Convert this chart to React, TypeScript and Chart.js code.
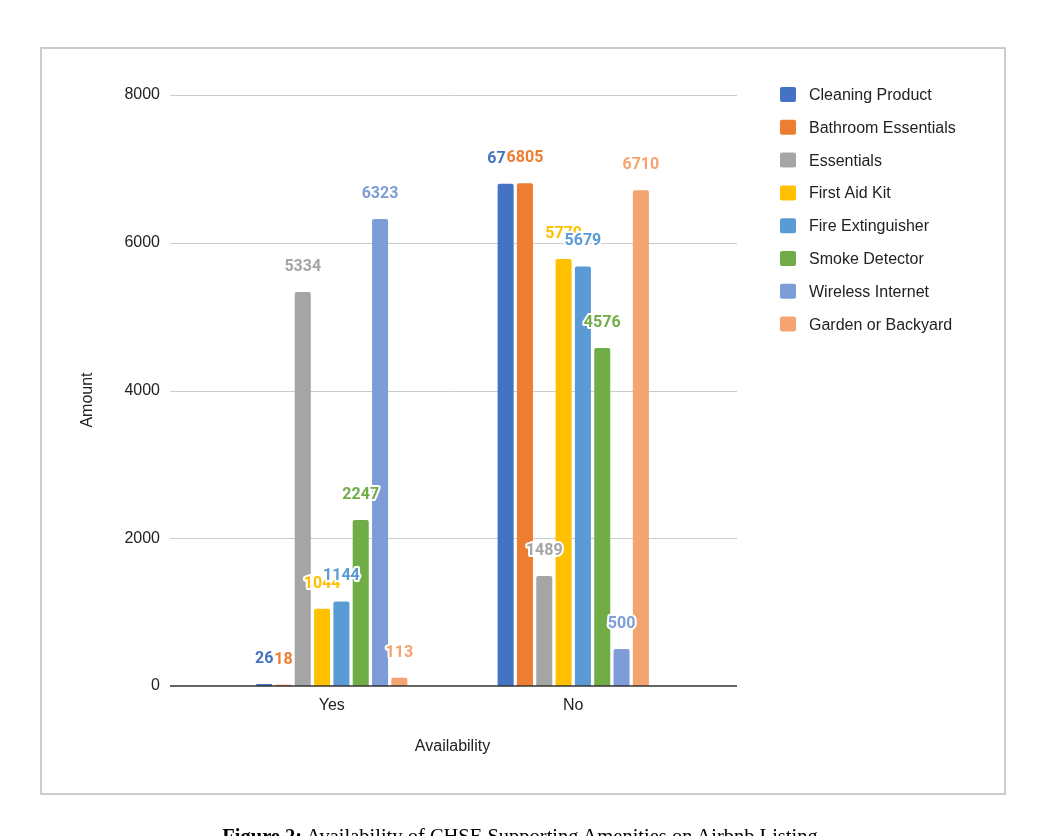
import React, { useEffect, useRef } from "react";
import { Chart, registerables } from "chart.js";

Chart.register(...registerables);

const categories = ["Yes", "No"];
const seriesNames = [
  "Cleaning Product",
  "Bathroom Essentials",
  "Essentials",
  "First Aid Kit",
  "Fire Extinguisher",
  "Smoke Detector",
  "Wireless Internet",
  "Garden or Backyard",
];
const cleaningProduct = [26, 6797];
const bathroomEssentials = [18, 6805];
const essentials = [5334, 1489];
const firstAidKit = [1044, 5779];
const fireExtinguisher = [1144, 5679];
const smokeDetector = [2247, 4576];
const wirelessInternet = [6323, 500];
const gardenOrBackyard = [113, 6710];
const seriesValues = [
  cleaningProduct,
  bathroomEssentials,
  essentials,
  firstAidKit,
  fireExtinguisher,
  smokeDetector,
  wirelessInternet,
  gardenOrBackyard,
];
const seriesColors = [
  "#4472C4",
  "#ED7D31",
  "#A5A5A5",
  "#FFC000",
  "#5B9BD5",
  "#70AD47",
  "#7E9DD8",
  "#F3A46F",
];
const yTicks = [0, 2000, 4000, 6000, 8000];
const yTitle = "Amount";
const xTitle = "Availability";

const SANS = "'Liberation Sans', Arial, sans-serif";

const gridPlugin = {
  id: "extGrid",
  beforeDatasetsDraw(chart: any) {
    const { ctx } = chart;
    const y = chart.scales.y;
    ctx.save();
    ctx.strokeStyle = "#cccccc";
    ctx.lineWidth = 1;
    yTicks.forEach((t) => {
      if (t === 0) return;
      const py = Math.round(y.getPixelForValue(t)) + 0.5;
      ctx.beginPath();
      ctx.moveTo(170, py);
      ctx.lineTo(737, py);
      ctx.stroke();
    });
    ctx.restore();
  },
  afterDatasetsDraw(chart: any) {
    const { ctx } = chart;
    const y = chart.scales.y;
    ctx.save();
    ctx.strokeStyle = "#333333";
    ctx.lineWidth = 1.5;
    const py = y.getPixelForValue(0);
    ctx.beginPath();
    ctx.moveTo(170, py);
    ctx.lineTo(737, py);
    ctx.stroke();

    // data labels
    ctx.font = "bold 16px Roboto, sans-serif";
    ctx.textAlign = "center";
    ctx.textBaseline = "alphabetic";
    ctx.lineJoin = "round";
    chart.data.datasets.forEach((ds: any, i: number) => {
      const meta = chart.getDatasetMeta(i);
      meta.data.forEach((el: any, j: number) => {
        const text = String(ds.data[j]);
        const tx = el.x;
        const ty = el.y - 21;
        ctx.strokeStyle = "#ffffff";
        ctx.lineWidth = 4;
        ctx.strokeText(text, tx, ty);
        ctx.fillStyle = ds.backgroundColor;
        ctx.fillText(text, tx, ty);
      });
    });
    ctx.restore();
  },
  afterDraw(chart: any) {
    const { ctx } = chart;
    ctx.save();
    ctx.font = "16px " + SANS;
    ctx.textAlign = "left";
    ctx.textBaseline = "middle";
    chart.data.datasets.forEach((ds: any, i: number) => {
      const cy = 94.5 + i * 32.8;
      ctx.fillStyle = ds.backgroundColor;
      ctx.beginPath();
      (ctx as any).roundRect(780, cy - 7.5, 16, 15, 2);
      ctx.fill();
      ctx.fillStyle = "#222222";
      ctx.fillText(ds.label, 809, cy + 1);
    });
    // y axis title
    ctx.translate(88, 400);
    ctx.rotate(-Math.PI / 2);
    ctx.textAlign = "center";
    ctx.fillStyle = "#222222";
    ctx.fillText(yTitle, 0, 0);
    ctx.restore();
  },
};

function App() {
  const ref = useRef<HTMLCanvasElement | null>(null);
  useEffect(() => {
    if (!ref.current) return;
    const chart = new Chart(ref.current, {
      type: "bar",
      data: {
        labels: categories,
        datasets: seriesNames.map((name, i) => ({
          label: name,
          data: seriesValues[i],
          backgroundColor: seriesColors[i],
          borderRadius: { topLeft: 2, topRight: 2, bottomLeft: 0, bottomRight: 0 },
          borderSkipped: "start",
          categoryPercentage: 0.64,
          barPercentage: 0.83,
        })),
      },
      options: {
        responsive: false,
        animation: false,
        devicePixelRatio: 1,
        layout: { padding: { left: 78.4, right: 346, top: 95, bottom: 79.4 } },
        plugins: {
          legend: { display: false },
          tooltip: { enabled: false },
        },
        scales: {
          x: {
            afterFit: (s: any) => {
              s.height = 70.6;
            },
            grid: { display: false, drawTicks: false },
            border: { display: false },
            ticks: {
              padding: 10,
              color: "#222222",
              font: { family: SANS, size: 16 },
            },
            title: {
              display: true,
              text: xTitle,
              color: "#222222",
              padding: 0,
              font: { family: SANS, size: 16 },
            },
          },
          y: {
            min: 0,
            max: 8000,
            afterFit: (s: any) => {
              s.width = 132.6;
            },
            afterBuildTicks: (s: any) => {
              s.ticks = yTicks.map((v) => ({ value: v }));
            },
            grid: { display: false, drawTicks: false },
            border: { display: false },
            ticks: {
              padding: 51,
              color: "#222222",
              font: { family: SANS, size: 16 },
              callback: (v: any) => String(v),
            },
            title: { display: false },
          },
        },
      },
      plugins: [gridPlugin],
    } as any);
    return () => chart.destroy();
  }, []);

  return (
    <div
      style={{
        position: "absolute",
        left: 0,
        top: 0,
        width: 1040,
        height: 836,
        overflow: "hidden",
        background: "#ffffff",
      }}
    >
      <div
        style={{
          position: "absolute",
          left: 40,
          top: 47,
          width: 966,
          height: 748,
          boxSizing: "border-box",
          border: "2px solid #cccccc",
        }}
      />
      <canvas
        ref={ref}
        width={1040}
        height={836}
        style={{ position: "absolute", left: 0, top: 0, width: 1040, height: 836 }}
      />
      <div
        style={{
          position: "absolute",
          left: 0,
          top: 825,
          width: 1040,
          textAlign: "center",
          fontFamily: "'Liberation Serif', 'Times New Roman', serif",
          fontSize: 20.5,
          lineHeight: "normal",
          color: "#000",
          whiteSpace: "nowrap",
        }}
      >
        <b>Figure 2:</b> Availability of CHSE Supporting Amenities on Airbnb Listing
      </div>
    </div>
  );
}

export default App;
